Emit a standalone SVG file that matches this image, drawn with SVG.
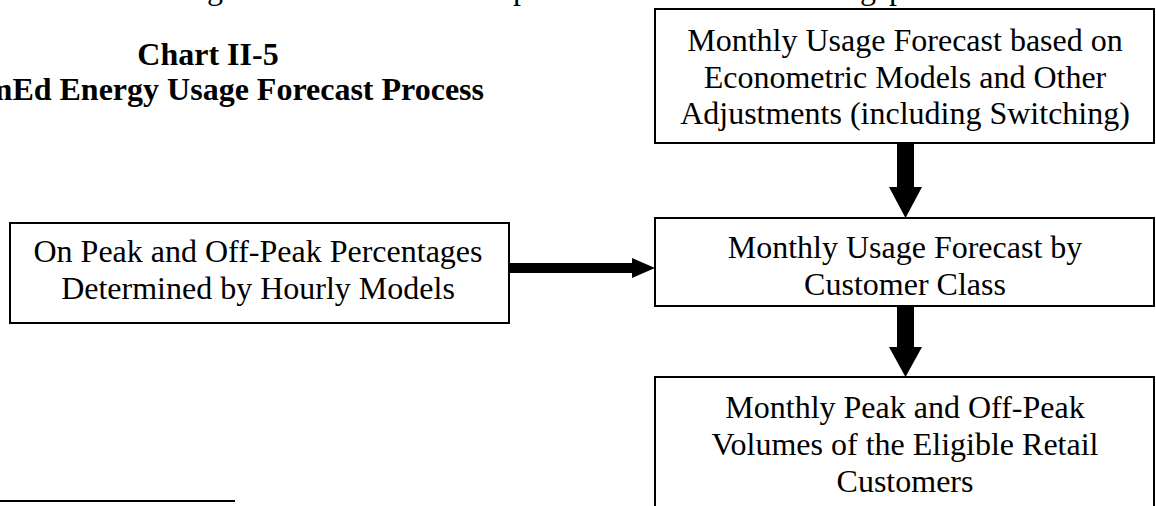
<svg xmlns="http://www.w3.org/2000/svg" width="1156" height="506" viewBox="0 0 1156 506">
<style>
.box{fill:#fff;stroke:#000;stroke-width:2}
.t{font-family:"Liberation Serif","Times New Roman",serif;font-size:32px;fill:#000;text-anchor:middle}
.b{font-weight:bold}
.arr{fill:#000}
</style>
<rect width="1156" height="506" fill="#fff"/>
<g id="page-fragments">
<text class="t" x="215" y="-1">g</text>
<text class="t" x="521" y="-1">p</text>
<text class="t" x="868" y="-1">g</text>
<text class="t" x="897" y="-1">p</text>
</g>
<g id="title">
<text class="t b" x="208" y="65">Chart II-5</text>
<text class="t b" x="484" y="100" style="text-anchor:end">ComEd Energy Usage Forecast Process</text>
</g>
<g id="node-econometric">
<rect class="box" x="655" y="9" width="499" height="134"/>
<text class="t" x="905" y="51">Monthly Usage Forecast based on</text>
<text class="t" x="905" y="88">Econometric Models and Other</text>
<text class="t" x="905" y="124">Adjustments (including Switching)</text>
</g>
<g id="node-class">
<rect class="box" x="655" y="218" width="499" height="88"/>
<text class="t" x="905" y="258">Monthly Usage Forecast by</text>
<text class="t" x="905" y="295">Customer Class</text>
</g>
<g id="node-hourly">
<rect class="box" x="10" y="223" width="499" height="100"/>
<text class="t" x="258" y="262">On Peak and Off-Peak Percentages</text>
<text class="t" x="258" y="299">Determined by Hourly Models</text>
</g>
<g id="node-volumes">
<rect class="box" x="655" y="377" width="499" height="140"/>
<text class="t" x="905" y="418">Monthly Peak and Off-Peak</text>
<text class="t" x="905" y="455">Volumes of the Eligible Retail</text>
<text class="t" x="905" y="492">Customers</text>
</g>
<g id="connectors">
<polygon class="arr" points="897,143 914,143 914,187 922,187 905.5,218 889,187 897,187"/>
<polygon class="arr" points="897,306 914,306 914,347 922,347 905.5,377 889,347 897,347"/>
<polygon class="arr" points="509,263 632,263 632,258 655,268 632,278 632,273 509,273"/>
</g>
<line x1="0" y1="501" x2="235" y2="501" stroke="#000" stroke-width="2"/>
</svg>
